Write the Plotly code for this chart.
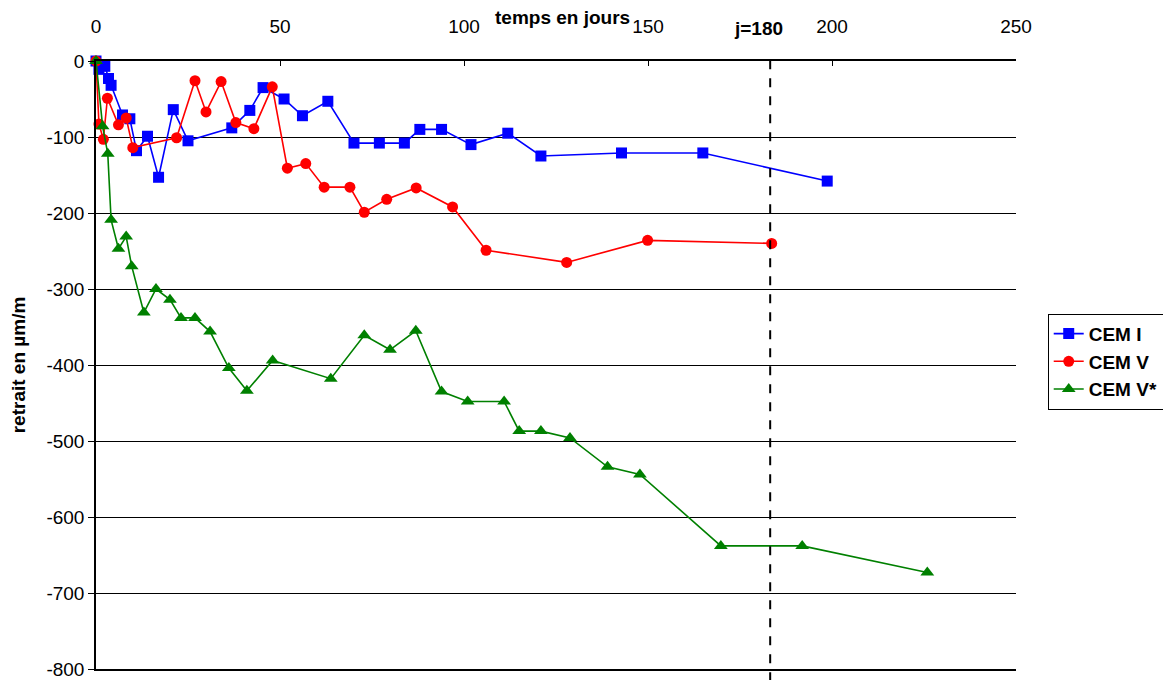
import plotly.graph_objects as go

# CEM I (blue squares)
cem1_x = [0, 0.8, 2.4, 3.4, 4.1, 7.2, 9.2, 11, 14, 17, 21, 25, 36.9, 41.8, 45.4,
          51.1, 56.1, 63, 70.1, 77, 83.8, 88, 93.9, 101.9, 111.9, 120.9, 142.8, 164.9, 198.7]
cem1_y = [0, -11, -7, -23, -32, -71, -76, -118, -99, -153, -64, -105, -88, -65, -35,
          -50, -72, -53, -108, -108, -108, -90, -90, -110, -95, -125, -121, -121, -158]

# CEM V (red circles)
cem5_x = [0, 0.8, 2, 3.1, 6.1, 8.2, 10, 21.9, 26.9, 29.9, 34, 38, 42.9, 47.9,
          52, 57, 62, 69, 72.9, 79, 87, 96.9, 106, 127.9, 149.9, 183.6]
cem5_y = [0, -83, -103, -49, -84, -75, -114, -101, -26, -67, -27, -81, -89, -34,
          -141, -135, -166, -166, -199, -182, -167, -192, -249, -265, -236, -240]

# CEM V* (green triangles)
cem5s_x = [0, 1.8, 3.2, 4.1, 6.1, 8.2, 9.7, 13, 16.3, 20.1, 23.1, 26.9, 31, 36.1, 41,
           48, 63.8, 72.9, 79.9, 86.9, 93.9, 101, 110.9, 115, 120.9, 128.8, 139, 147.8,
           169.8, 191.9, 225.9]
cem5s_y = [0, -86, -122, -209, -247, -231, -270, -331, -300, -314, -338, -338, -356, -404, -434,
           -394, -418, -361, -380, -355, -435, -448, -448, -487, -487, -496, -534, -544,
           -638, -638, -673]

y_ticks = [0, -100, -200, -300, -400, -500, -600, -700, -800]
y_labels = ["0", "-100", "-200", "-300", "-400", "-500", "-600", "-700", "-800"]
x_ticks = [0, 50, 100, 150, 200, 250]
j_line = 183.2

fig = go.Figure()
fig.add_trace(go.Scatter(x=cem1_x, y=cem1_y, name="<b>CEM I</b>\u00a0\u00a0\u00a0", mode="lines+markers",
                         line=dict(color="#0000FF", width=1.6),
                         marker=dict(symbol="square", size=11, color="#0000FF"),
                         cliponaxis=False))
fig.add_trace(go.Scatter(x=cem5_x, y=cem5_y, name="<b>CEM V</b>\u00a0\u00a0\u00a0", mode="lines+markers",
                         line=dict(color="#FF0000", width=1.6),
                         marker=dict(symbol="circle", size=11, color="#FF0000"),
                         cliponaxis=False))
fig.add_trace(go.Scatter(x=cem5s_x, y=cem5s_y, name="<b>CEM V*</b>\u00a0\u00a0\u00a0", mode="lines+markers",
                         line=dict(color="#008000", width=1.6),
                         marker=dict(symbol="triangle-up", size=12, color="#008000"),
                         cliponaxis=False))

fig.add_shape(type="line", xref="x", yref="paper", x0=j_line, x1=j_line, y0=-0.02, y1=1.015,
              line=dict(color="black", width=2, dash="dash"))

fig.add_annotation(text="<b>temps en jours</b>", xref="paper", yref="paper", x=0.507, y=1.072,
                   showarrow=False, font=dict(size=19, color="black"), yanchor="middle")
fig.add_annotation(text="<b>j=180</b>", xref="x", yref="paper", x=180, y=1.054,
                   showarrow=False, font=dict(size=19, color="black"), yanchor="middle")

fig.update_xaxes(side="top", range=[0, 250], tickvals=x_ticks, ticks="inside", ticklen=5,
                 tickcolor="black", showline=True, linecolor="black", linewidth=1.5, mirror=True,
                 showgrid=False, zeroline=False, ticklabelstandoff=19, automargin=False,
                 tickfont=dict(size=19, color="black"))
fig.update_yaxes(range=[-800, 0], tickvals=y_ticks, ticktext=y_labels, ticks="outside", ticklen=6,
                 tickcolor="black", showline=True, linecolor="black", linewidth=1.5,
                 showgrid=True, gridcolor="black", gridwidth=1, zeroline=False, automargin=False,
                 ticklabeloverflow="allow",
                 tickfont=dict(size=19, color="black"),
                 title=dict(text="<b>retrait en µm/m</b>", font=dict(size=19, color="black"), standoff=16))

# page body adds an 8px offset, so the figure is 8px smaller and shifted margins
fig.update_layout(
    width=1163, height=672,
    margin=dict(l=88, r=155, t=53, b=11),
    plot_bgcolor="white", paper_bgcolor="white",
    font=dict(family="Liberation Sans, Arial", color="black"),
    legend=dict(xref="container", yref="container", x=0.894, y=0.545,
                xanchor="left", yanchor="top",
                bordercolor="black", borderwidth=1, bgcolor="white",
                font=dict(size=19, color="black"), tracegroupgap=0),
)

fig.write_html("out.html")
